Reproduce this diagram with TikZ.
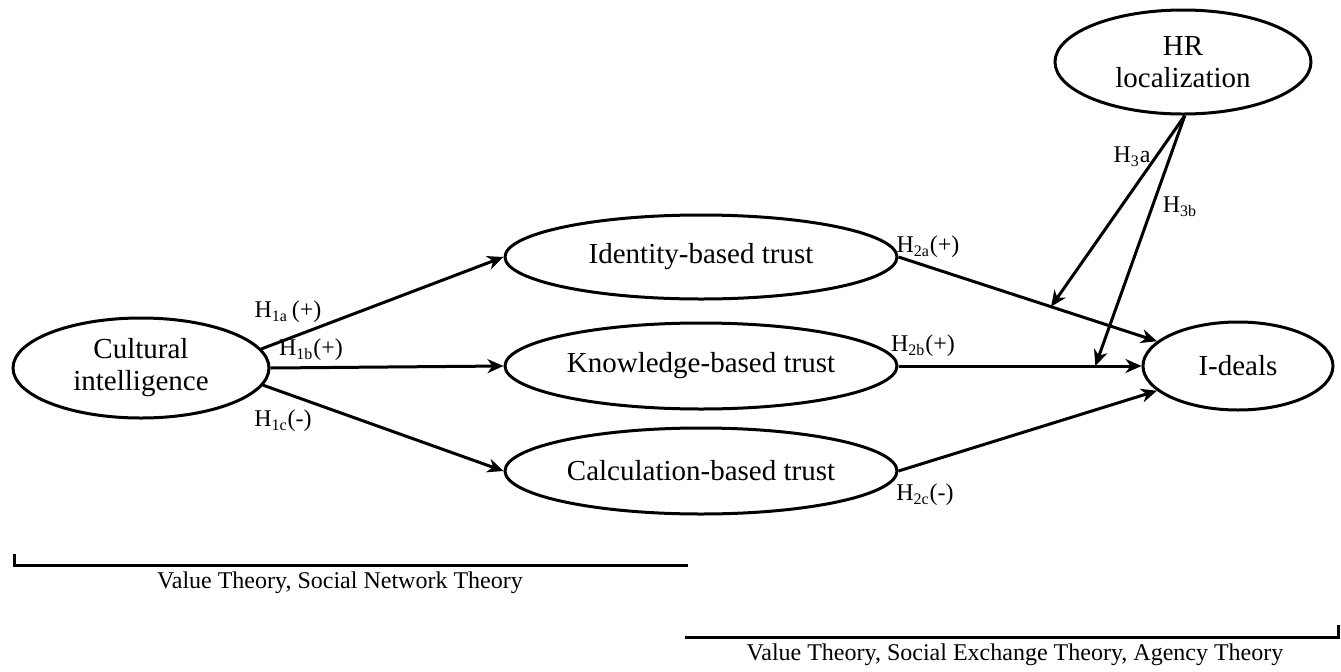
\documentclass[tikz,border=0pt]{standalone}
\usepackage{fontspec}
\setmainfont{Liberation Serif}
\usepackage{tikz}
\usetikzlibrary{arrows.meta,calc,shapes.geometric}
\tikzset{>={Stealth[length=8pt,width=7pt,inset=2.5pt]}}

\begin{document}
\begin{tikzpicture}[x=0.5pt,y=-0.5pt]
\tikzstyle{construct}=[
    ellipse, draw, line width=1.5pt,
    inner sep=0pt, align=center,
    font=\fontsize{14.5}{16}\selectfont]
\tikzstyle{path}=[->, line width=1.5pt]
\tikzstyle{hyp}=[inner sep=0pt, font=\fontsize{12}{13}\selectfont]
\tikzstyle{theory}=[line width=1.5pt]
\useasboundingbox (0,0) rectangle (1341,671);
% constructs
\node[construct, minimum width=128pt, minimum height=50pt] (ci) at (141,368) {Cultural\\intelligence};
\node[construct, minimum width=196pt, minimum height=42pt] (ibt) at (701,257) {Identity-based trust};
\node[construct, minimum width=196pt, minimum height=43pt] (kbt) at (701,366) {Knowledge-based trust};
\node[construct, minimum width=196pt, minimum height=43pt] (cbt) at (701,471) {Calculation-based trust};
\node[construct, minimum width=95pt, minimum height=44pt] (id) at (1238,366) {I-deals};
\node[construct, minimum width=128pt, minimum height=52pt] (hr) at (1183,62) {HR\\localization};
% paths
\draw[path] (ci.9) -- (ibt.west);
\draw[path] (ci.east) -- (kbt.west);
\draw[path] (ci.-8) -- (cbt.west);
\draw[path] (ibt.east) -- coordinate[pos=0.59] (m3a) (id.163);
\draw[path] (kbt.east) -- coordinate[pos=0.81] (m3b) (id.west);
\draw[path] (cbt.east) -- (id.197);
\draw[path] (hr.-88) -- (m3a);
\draw[path] (hr.-88) -- (m3b);
% hypotheses
\node[hyp] (h1a) at (288,312) {H\textsubscript{1a}\,(+)};
\node[hyp] (h1b) at (311,350) {H\textsubscript{1b}(+)};
\node[hyp] (h1c) at (283,421) {H\textsubscript{1c}(-)};
\node[hyp] (h2a) at (928,247) {H\textsubscript{2a}(+)};
\node[hyp] (h2b) at (923,346) {H\textsubscript{2b}(+)};
\node[hyp] (h2c) at (925,495) {H\textsubscript{2c}(-)};
\node[hyp] (h3a) at (1132,157) {H\textsubscript{3}a};
\node[hyp] (h3b) at (1180,207) {H\textsubscript{3b}};
% theories
\draw[theory] (14,554) -- (14,565) -- (688,565);
\node[hyp] (t1) at (340,583) {Value Theory, Social Network Theory};
\draw[theory] (685,637) -- (1338,637) -- (1338,625);
\node[hyp] (t2) at (1015,655) {Value Theory, Social Exchange Theory, Agency Theory};
\end{tikzpicture}
\end{document}
